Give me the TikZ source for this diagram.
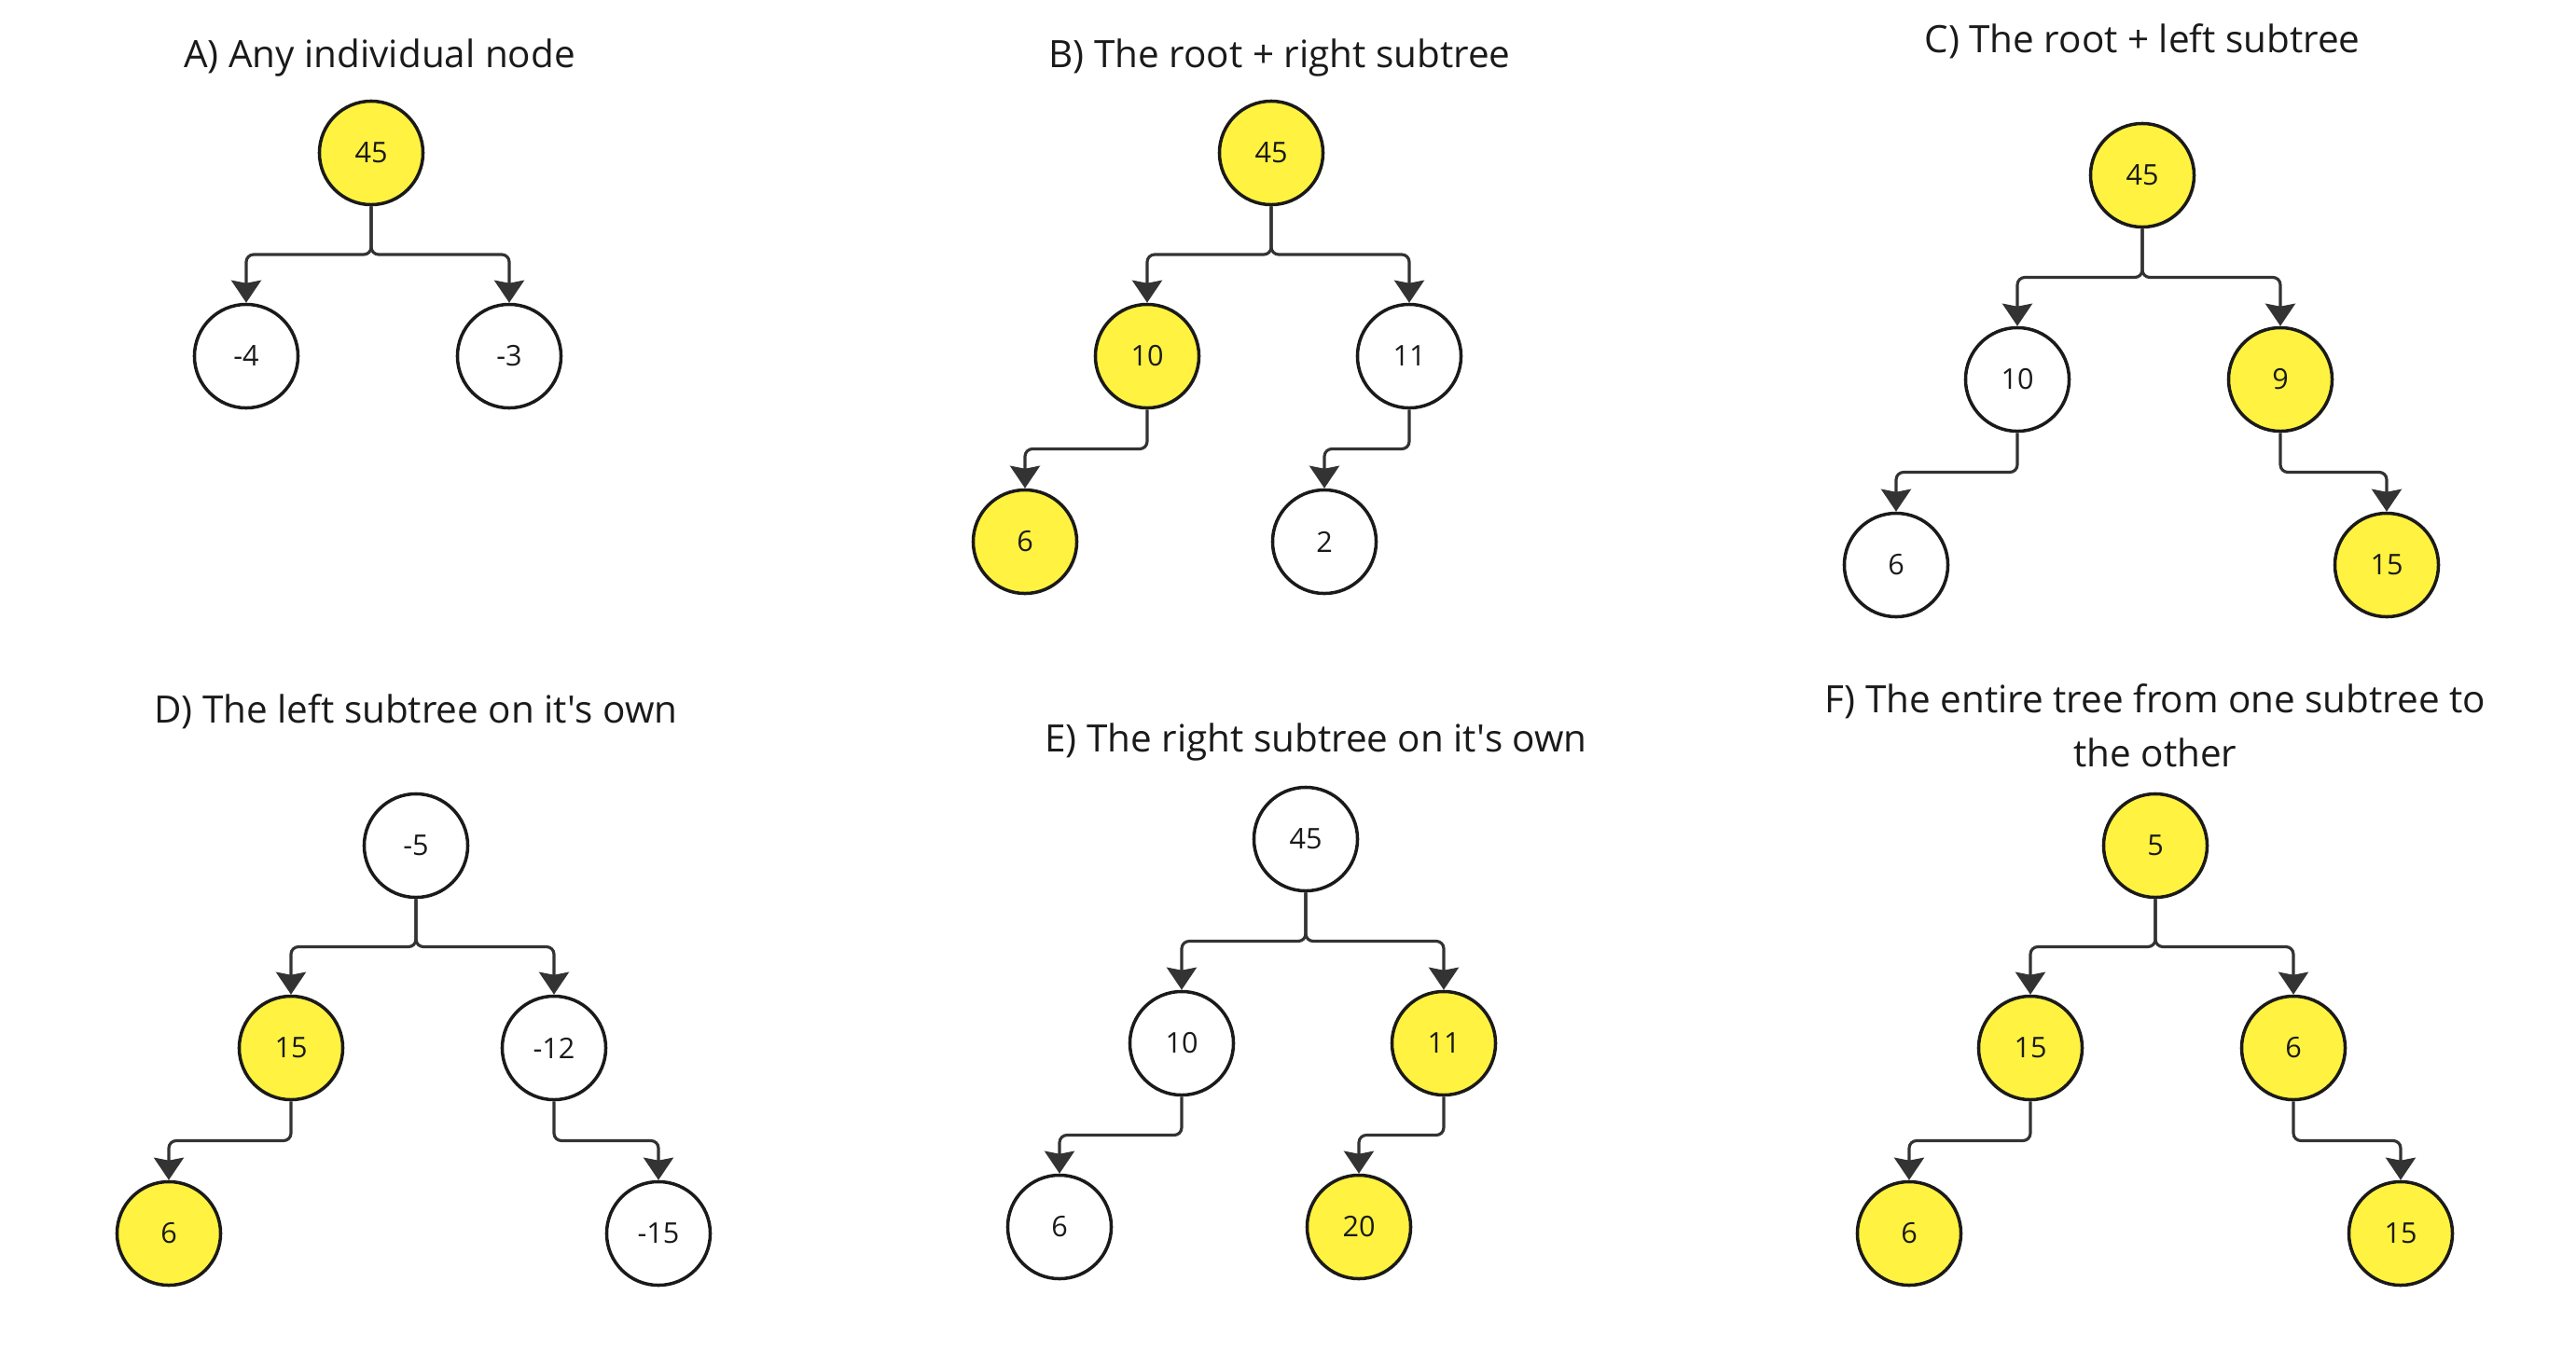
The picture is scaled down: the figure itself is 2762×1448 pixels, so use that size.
\documentclass[tikz,border=0pt]{standalone}
\usepackage{fontspec}
\setmainfont{Open Sans}
\usetikzlibrary{arrows.meta,calc}
\definecolor{hlyellow}{RGB}{255,242,64}
\definecolor{linkgray}{RGB}{51,51,51}
\definecolor{inkblack}{RGB}{26,26,26}
\begin{document}
\begin{tikzpicture}[x=0.01cm, y=-0.01cm,
    tnode/.style={circle, draw=inkblack, line width=1pt, fill=white, minimum size=1.11cm, inner sep=0pt, text=inkblack, font=\fontsize{8.7}{10}\selectfont},
    hl/.style={tnode, fill=hlyellow},
    title/.style={text=inkblack, align=center, font=\fontsize{11.5}{16.5}\selectfont},
    link/.style={draw=linkgray, line width=0.9pt, rounded corners=0.08cm, -{Stealth[length=0.24cm, width=0.32cm, inset=0.03cm]},
        to path={(\tikztostart.south) |- ($(\tikztostart.south)!0.5!(\tikztotarget.north)$) -| (\tikztotarget.north) \tikztonodes}}]
    \useasboundingbox (0,0) rectangle (2762,1448);

    % A
    \node[title] at (407,62) (TA) {A) Any individual node};
    \node[hl] at (398,164) (A0) {45};
    \node[tnode] at (264,382) (A1) {-4};
    \node[tnode] at (546,382) (A2) {-3};
    \draw [link] (A0) to (A1);
    \draw [link] (A0) to (A2);

    % B
    \node[title] at (1372,62) (TB) {B) The root + right subtree};
    \node[hl] at (1363,164) (B0) {45};
    \node[hl] at (1230,382) (B1) {10};
    \node[tnode] at (1511,382) (B2) {11};
    \node[hl] at (1099,581) (B3) {6};
    \node[tnode] at (1420,581) (B4) {2};
    \draw [link] (B0) to (B1);
    \draw [link] (B0) to (B2);
    \draw [link] (B1) to (B3);
    \draw [link] (B2) to (B4);

    % C
    \node[title] at (2297,44) (TC) {C) The root + left subtree};
    \node[hl] at (2297,188) (C0) {45};
    \node[tnode] at (2163,407) (C1) {10};
    \node[hl] at (2445,407) (C2) {9};
    \node[tnode] at (2033,606) (C3) {6};
    \node[hl] at (2559,606) (C4) {15};
    \draw [link] (C0) to (C1);
    \draw [link] (C0) to (C2);
    \draw [link] (C1) to (C3);
    \draw [link] (C2) to (C4);

    % D
    \node[title] at (446,763) (TD) {D) The left subtree on it\textquotesingle s own};
    \node[tnode] at (446,907) (D0) {-5};
    \node[hl] at (312,1124) (D1) {15};
    \node[tnode] at (594,1124) (D2) {-12};
    \node[hl] at (181,1323) (D3) {6};
    \node[tnode] at (706,1323) (D4) {-15};
    \draw [link] (D0) to (D1);
    \draw [link] (D0) to (D2);
    \draw [link] (D1) to (D3);
    \draw [link] (D2) to (D4);

    % E
    \node[title] at (1411,796) (TE) {E) The right subtree on it\textquotesingle s own};
    \node[tnode] at (1400,900) (E0) {45};
    \node[tnode] at (1267,1119) (E1) {10};
    \node[hl] at (1548,1119) (E2) {11};
    \node[tnode] at (1136,1316) (E3) {6};
    \node[hl] at (1457,1316) (E4) {20};
    \draw [link] (E0) to (E1);
    \draw [link] (E0) to (E2);
    \draw [link] (E1) to (E3);
    \draw [link] (E2) to (E4);

    % F
    \node[title] at (2311,778) (TF) {F) The entire tree from one subtree to\\the other};
    \node[hl] at (2311,907) (F0) {5};
    \node[hl] at (2177,1124) (F1) {15};
    \node[hl] at (2459,1124) (F2) {6};
    \node[hl] at (2047,1323) (F3) {6};
    \node[hl] at (2574,1323) (F4) {15};
    \draw [link] (F0) to (F1);
    \draw [link] (F0) to (F2);
    \draw [link] (F1) to (F3);
    \draw [link] (F2) to (F4);

\end{tikzpicture}
\end{document}
